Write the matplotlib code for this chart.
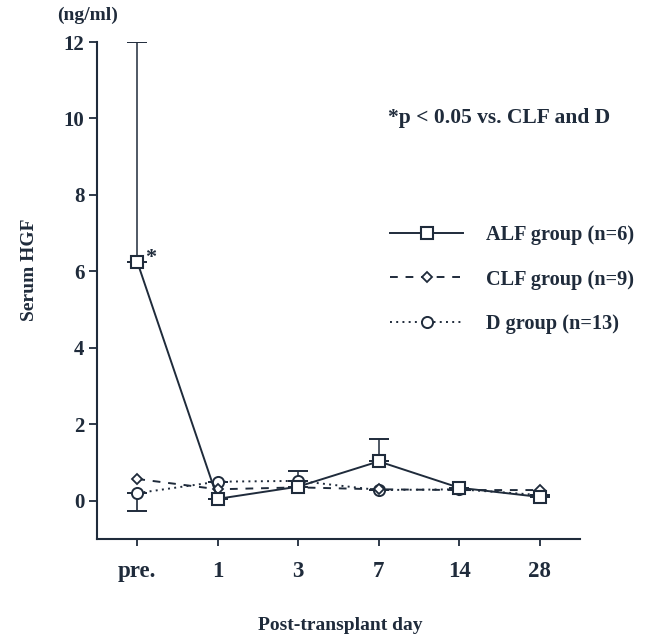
import matplotlib
matplotlib.use("Agg")
import matplotlib.pyplot as plt
import numpy as np

# Serum HGF (ng/ml) by post-transplant day
days = ["pre.", "1", "3", "7", "14", "28"]

alf_mean = [6.25, 0.05, 0.37, 1.03, 0.34, 0.10]
alf_err_up = [5.75, 0.0, 0.40, 0.58, 0.0, 0.0]

clf_mean = [0.57, 0.30, 0.35, 0.30, 0.28, 0.28]

d_mean = [0.20, 0.50, 0.52, 0.28, 0.30, 0.15]
d_err_down = [0.48, 0.0, 0.0, 0.0, 0.0, 0.0]

labels = ["ALF group (n=6)", "CLF group (n=9)", "D group (n=13)"]

ink = "#1f2b3b"
plt.rcParams["font.family"] = ["Liberation Serif", "DejaVu Serif"]
plt.rcParams["font.weight"] = "bold"

W, H = 649, 641
fig = plt.figure(figsize=(W / 100, H / 100), dpi=100)
ax = fig.add_axes([97 / W, (H - 539) / H, (580 - 97) / W, (539 - 42) / H])

x = np.arange(len(days))

h_d, = ax.plot(x, d_mean, linestyle=(0, (1, 2.2)), color=ink, lw=1.4,
               marker="o", ms=8, mfc="white", mec=ink, mew=1.4, zorder=3)
ax.errorbar(x, d_mean, yerr=[d_err_down, np.zeros(len(x))], fmt="none",
            ecolor=ink, elinewidth=1.2, capsize=7, capthick=1.4, zorder=2)

h_c, = ax.plot(x, clf_mean, linestyle=(0, (4, 4)), color=ink, lw=1.4,
               marker="D", ms=5, mfc="white", mec=ink, mew=1.3, zorder=4)

h_a, = ax.plot(x, alf_mean, linestyle="-", color=ink, lw=1.4,
               marker="s", ms=8.5, mfc="white", mec=ink, mew=1.5, zorder=5)
ax.errorbar(x, alf_mean, yerr=[np.zeros(len(x)), alf_err_up], fmt="none",
            ecolor=ink, elinewidth=1.1, capsize=7, capthick=1.4, zorder=2)

ax.text(x[0] + 0.1, alf_mean[0] + 0.1, "*", fontsize=16, color=ink,
        ha="left", va="center", fontweight="bold")

ax.set_xlim(-0.5, 5.5)
ax.set_ylim(-1, 12)
ax.set_xticks(x)
ax.set_xticklabels(days)
ax.set_yticks(np.arange(0, 13, 2))

for s in ["top", "right"]:
    ax.spines[s].set_visible(False)
for s in ["left", "bottom"]:
    ax.spines[s].set_color(ink)
    ax.spines[s].set_linewidth(1.5)

ax.tick_params(axis="y", direction="out", length=6, width=1.3, colors=ink,
               labelsize=15, pad=3)
ax.tick_params(axis="x", direction="out", length=5, width=1.3, colors=ink,
               labelsize=16.5, pad=11)
for t in ax.get_xticklabels() + ax.get_yticklabels():
    t.set_fontweight("bold")

fig.text(88 / W, 1 - 15 / H, "(ng/ml)", ha="center", va="center",
         fontsize=14, color=ink, fontweight="bold")
fig.text(30 / W, 1 - 270 / H, "Serum HGF", rotation=90, ha="center",
         va="center", fontsize=14, color=ink, fontweight="bold")
fig.text(340 / W, 1 - 625 / H, "Post-transplant day", ha="center",
         va="center", fontsize=14, color=ink, fontweight="bold")
fig.text(388 / W, 1 - 118 / H, "*p < 0.05 vs. CLF and D", ha="left",
         va="center", fontsize=15.5, color=ink, fontweight="bold")

leg = fig.legend([h_a, h_c, h_d], labels, loc="upper left",
                 bbox_to_anchor=(372 / W, 1 - 207 / H), frameon=False,
                 fontsize=14.6, handlelength=3.6, handletextpad=1.1,
                 labelspacing=1.2, labelcolor=ink)

fig.savefig("out.png", dpi=100, facecolor="white")
